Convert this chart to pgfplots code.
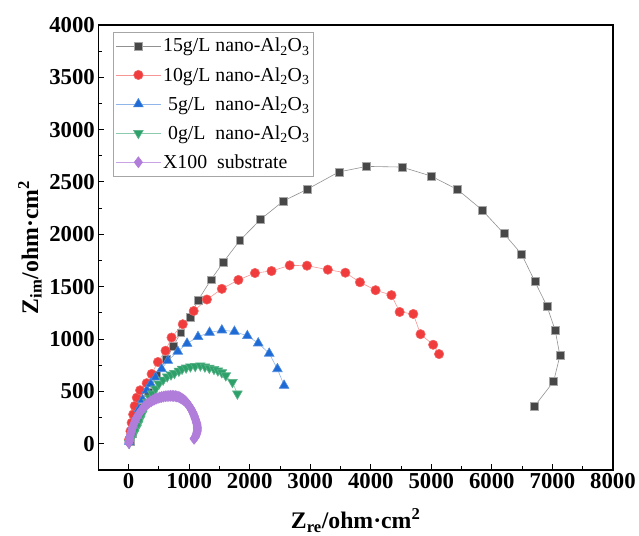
\documentclass[border=0pt]{standalone}
\usepackage{fontspec}
\setmainfont{Liberation Serif}
\usepackage{pgfplots}
\pgfplotsset{compat=1.18}

\definecolor{sqgray}{HTML}{474747}
\definecolor{cred}{HTML}{F03C3C}
\definecolor{cblue}{HTML}{1F6BD6}
\definecolor{cgreen}{HTML}{2EA06A}
\definecolor{cpurple}{HTML}{B07DDB}

\begin{document}
\begin{tikzpicture}
\begin{axis}[
  name=ax,
  width=518bp, height=448bp, scale only axis,
  xmin=-500, xmax=8000, ymin=-250, ymax=4000,
  xtick={0,1000,...,8000}, ytick={0,500,...,4000},
  minor x tick num=1, minor y tick num=1,
  xtick pos=bottom, ytick pos=left,
  tick align=inside,
  major tick length=6bp, minor tick length=3.5bp,
  every tick/.style={black, line width=0.9bp},
  axis line style={line width=1.6bp},
  /pgf/number format/assume math mode=true,
  /pgf/number format/set thousands separator={},
  ticklabel style={font=\bfseries\fontsize{23}{23}\selectfont},
  xlabel={\textbf{Z\textsubscript{re}/ohm·cm\textsuperscript{2}}},
  ylabel={\textbf{Z\textsubscript{im}/ohm·cm\textsuperscript{2}}},
  every axis x label/.style={at={(axis description cs:0.5,-0.114)}, anchor=center,
    font=\fontsize{24}{24}\selectfont},
  every axis y label/.style={at={(axis description cs:-0.133,0.5)}, rotate=90, anchor=center,
    font=\fontsize{24}{24}\selectfont},
  legend style={at={(axis description cs:0.029,0.984)}, anchor=north west,
    draw=gray!70, line width=0.6bp, font=\fontsize{20}{22}\selectfont,
    inner xsep=2bp, inner ysep=4bp, row sep=10bp},
  legend cell align=left,
  legend image code/.code={\draw[mark repeat=2,mark phase=2] plot coordinates {(0cm,0cm)(0.8cm,0cm)(1.6cm,0cm)};},
]
% 15 g/L
\addplot[color=sqgray!60, line width=0.6bp, mark=square*, mark size=4bp,
  mark options={fill=sqgray, draw=gray!70, line width=0.4bp}] coordinates {
(20,20)(60,100)(130,220)(220,350)(330,490)(460,650)(627,812)(740,932)(860,1060)
(1010,1204)(1150,1372)(1360,1566)(1567,1735)(1835,1940)(2180,2142)(2552,2316)
(2951,2430)(3471,2595)(3929,2648)(4512,2642)(4992,2557)(5433,2427)(5835,2234)
(6198,2007)(6490,1811)(6711,1548)(6909,1315)(7047,1081)(7124,841)(7020,594)(6699,354)};
\addlegendentry{15g/L nano-Al\textsubscript{2}O\textsubscript{3}}
% 10 g/L
\addplot[color=cred!55, line width=0.6bp, mark=*, mark size=4.7bp,
  mark options={fill=cred, draw=cred!80}] coordinates {
(8,40)(30,120)(50,200)(75,280)(100,360)(135,440)(190,510)(298,578)(380,666)
(484,780)(610,888)(709,1014)(894,1141)(1075,1267)(1293,1377)(1540,1479)(1813,1564)
(2087,1630)(2360,1649)(2661,1703)(2946,1700)(3290,1662)(3580,1633)(3821,1542)
(4079,1466)(4341,1419)(4477,1258)(4702,1239)(4822,1046)(5030,945)(5128,856)};
\addlegendentry{10g/L nano-Al\textsubscript{2}O\textsubscript{3}}
% 5 g/L
\addplot[color=cblue!50, line width=0.6bp, mark=triangle*, mark size=5.6bp,
  mark options={fill=cblue, draw=cblue!80}] coordinates {
(10,20)(40,90)(80,170)(120,250)(170,330)(230,420)(300,509)(364,572)(446,635)
(545,714)(648,793)(812,881)(965,957)(1146,1021)(1337,1062)(1540,1084)(1748,1071)
(1961,1030)(2141,960)(2322,862)(2458,714)(2568,556)};
\addlegendentry{\ 5g/L\ \ nano-Al\textsubscript{2}O\textsubscript{3}}
% 0 g/L
\addplot[color=cgreen!55, line width=0.6bp, mark=triangle*, mark size=5.6bp,
  mark options={fill=cgreen, draw=cgreen!80, rotate=180}] coordinates {
(10,5)(50,60)(90,100)(130,150)(161,192)(195,240)(227,287)(270,345)(309,398)
(350,440)(391,477)(445,525)(500,572)(570,610)(637,641)(700,660)(757,673)(830,695)
(883,714)(950,725)(1021,736)(1100,740)(1185,746)(1260,735)(1333,723)(1410,712)
(1474,698)(1540,680)(1605,651)(1715,588)(1797,477)};
\addlegendentry{\ 0g/L\ \ nano-Al\textsubscript{2}O\textsubscript{3}}
% X100
\addplot[color=cpurple!70, line width=0.6bp, mark=diamond*, mark size=5.5bp,
  mark options={fill=cpurple, draw=cpurple}] coordinates {
(3,8)(5,15)(9,30)(15,45)(22,65)(30,85)(40,105)(50,125)(60,145)(72,165)(85,185)
(100,205)(115,225)(130,245)(147,263)(165,280)(185,298)(205,315)(225,330)(248,345)
(270,359)(295,372)(320,384)(345,395)(372,405)(400,415)(428,423)(455,430)(485,436)
(515,442)(545,446)(575,450)(605,453)(635,455)(665,456)(695,457)(720,457)(745,456)
(770,455)(795,452)(818,448)(840,443)(860,437)(880,430)(898,423)(915,415)(932,407)
(948,398)(963,388)(978,378)(992,367)(1005,356)(1018,344)(1030,332)(1042,320)(1053,307)
(1063,295)(1073,282)(1082,269)(1090,256)(1098,243)(1106,230)(1113,218)(1120,205)
(1125,193)(1130,180)(1133,168)(1135,155)(1136,142)(1135,130)(1132,118)(1128,105)
(1122,94)(1115,82)(1108,72)(1100,62)(1090,54)(1080,47)};
\addlegendentry{X100\ \ substrate}
\end{axis}
\path ([xshift=-99bp,yshift=-63bp]ax.south west) rectangle ([xshift=22bp,yshift=25bp]ax.north east);
\end{tikzpicture}
\end{document}
